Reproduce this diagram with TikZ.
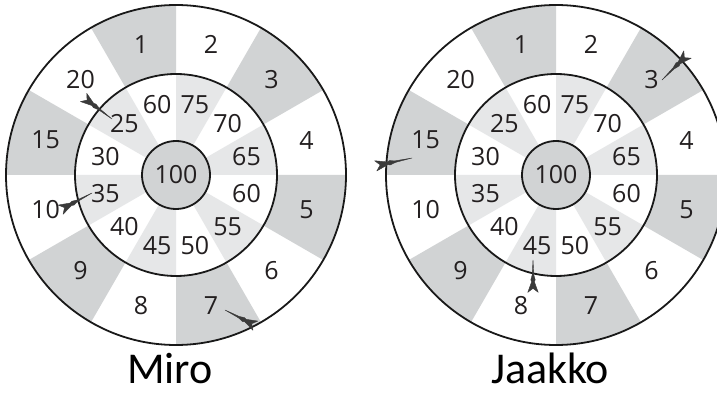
\documentclass[tikz,border=0pt]{standalone}
\usepackage{fontspec}
\setmainfont{Open Sans}
\newfontfamily\namefont{Carlito}
\usetikzlibrary{calc}
\definecolor{outergray}{HTML}{D1D3D4}
\definecolor{innergray}{HTML}{E6E7E8}
\definecolor{dartcol}{HTML}{3A3A3A}
\definecolor{numcol}{HTML}{231F20}
\tikzset{
  ring/.style={draw=black!90, line width=1.8pt},
  numlbl/.style={font=\fontsize{25}{25}\selectfont, inner sep=0pt, text=numcol},
  namelbl/.style={font=\namefont\fontsize{44}{44}\selectfont, anchor=base, inner sep=0pt, text=black},
  dartfill/.style={fill=dartcol, draw=dartcol, line width=0.4pt, line join=round},
}
\newcommand\dboard[2]{%
  \begin{scope}[shift={#1}]
    \fill[white] (0,0) circle (170pt);
    \foreach \a in {45,-15,-75,-135,165,105}
      \fill[outergray] (0,0) -- (\a-15:170pt) arc[start angle=\a-15, end angle=\a+15, radius=170pt] -- cycle;
    \fill[white] (0,0) circle (101pt);
    \foreach \a in {75,15,-45,-105,-165,135}
      \fill[innergray] (0,0) -- (\a-15:101pt) arc[start angle=\a-15, end angle=\a+15, radius=101pt] -- cycle;
    \fill[outergray] (0,0) circle (34pt);
    \draw[ring] (0,0) circle (170pt) (0,0) circle (101pt) (0,0) circle (34pt);
    \foreach \a/\t [count=\k] in {75/2,45/3,15/4,-15/5,-45/6,-75/7,-105/8,-135/9,-165/10,165/15,135/20,105/1}
      \node[numlbl] (#2o\k) at (\a:135pt) {\t};
    \foreach \a/\t [count=\k] in {75/75,45/70,15/65,-15/60,-45/55,-75/50,-105/45,-135/40,-165/35,165/30,135/25,105/60}
      \node[numlbl] (#2i\k) at (\a:73pt) {\t};
    \node[numlbl] (#2c) at (0,0) {100};
  \end{scope}}
\newcommand\dart[2]{%
  \filldraw[dartfill] (#1)
    -- ($(#1)!0.45!(#2)!0.8pt!90:(#2)$)
    -- ($(#1)!0.6!(#2)!2.2pt!90:(#2)$)
    -- ($(#1)!0.66!(#2)!1.4pt!90:(#2)$)
    -- ($(#1)!0.98!(#2)!5.2pt!90:(#2)$)
    -- ($(#1)!0.86!(#2)$)
    -- ($(#1)!0.98!(#2)!5.2pt!-90:(#2)$)
    -- ($(#1)!0.66!(#2)!1.4pt!-90:(#2)$)
    -- ($(#1)!0.6!(#2)!2.2pt!-90:(#2)$)
    -- ($(#1)!0.45!(#2)!0.8pt!-90:(#2)$)
    -- cycle;}
\begin{document}
\begin{tikzpicture}[x=1pt,y=1pt]
  \useasboundingbox (0,0) rectangle (717,394);
  \fill[white] (0,0) rectangle (717,394);
  \clip (0,0) rectangle (717,394);
  \dboard{(176,219)}{m}
  \dboard{(556,219)}{j}
  \node[namelbl] (miro) at (170,11) {Miro};
  \node[namelbl] (jaakko) at (550,11) {Jaakko};
  % Miro's darts
  \coordinate (m1tip) at (112,275); \coordinate (m1tail) at (83,297);
  \coordinate (m2tip) at (92,201);  \coordinate (m2tail) at (60,184);
  \coordinate (m3tip) at (225,84);  \coordinate (m3tail) at (256,68);
  \dart{m1tip}{m1tail}
  \dart{m2tip}{m2tail}
  \dart{m3tip}{m3tail}
  % Jaakko's darts
  \coordinate (j1tip) at (662,314); \coordinate (j1tail) at (688,340);
  \coordinate (j2tip) at (412,236); \coordinate (j2tail) at (375,228);
  \coordinate (j3tip) at (533,134); \coordinate (j3tail) at (533,101);
  \dart{j1tip}{j1tail}
  \dart{j2tip}{j2tail}
  \dart{j3tip}{j3tail}
\end{tikzpicture}
\end{document}
